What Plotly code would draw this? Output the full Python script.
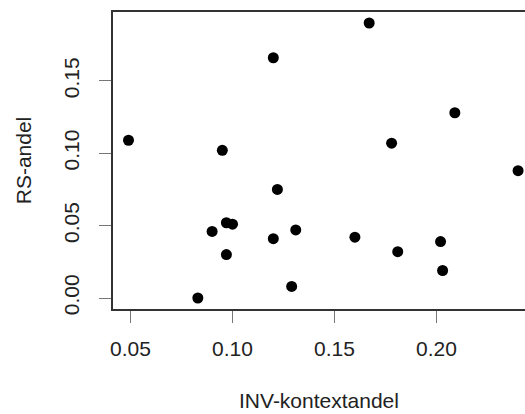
import plotly.graph_objects as go

inv_kontextandel = [0.049, 0.167, 0.120, 0.209, 0.178, 0.095, 0.240, 0.122, 0.097, 0.100,
                    0.090, 0.131, 0.120, 0.160, 0.202, 0.097, 0.181, 0.203, 0.129, 0.083]
rs_andel = [0.109, 0.190, 0.166, 0.128, 0.107, 0.102, 0.088, 0.075, 0.052, 0.051,
            0.046, 0.047, 0.041, 0.042, 0.039, 0.030, 0.032, 0.019, 0.008, 0.000]

x_ticks = [0.05, 0.10, 0.15, 0.20]
x_ticklabels = ["0.05", "0.10", "0.15", "0.20"]
y_ticks = [0.00, 0.05, 0.10, 0.15]
y_ticklabels = ["0.00", "0.05", "0.10", "0.15"]

FONT = "Liberation Sans, Arial, sans-serif"
TXT = "#222222"

fig = go.Figure(go.Scatter(
    x=inv_kontextandel, y=rs_andel, mode="markers",
    marker=dict(color="black", size=11, line=dict(width=0)),
    cliponaxis=False, showlegend=False,
))

fig.update_layout(
    width=525, height=414,
    margin=dict(l=113, r=0, t=12, b=105),
    paper_bgcolor="white", plot_bgcolor="white",
    font=dict(family=FONT, size=21, color=TXT),
)
fig.update_xaxes(
    range=[0.0414, 0.2434], tickvals=x_ticks, ticktext=x_ticklabels,
    showgrid=False, zeroline=False,
    showline=True, linecolor="#333333", linewidth=1.5, mirror=True,
    ticks="outside", ticklen=12, tickwidth=1, tickcolor="#777777",
    ticklabelstandoff=8,
    tickfont=dict(size=21, color=TXT),
    title=dict(text="INV-kontextandel", standoff=34, font=dict(size=21, color=TXT)),
)
fig.update_yaxes(
    range=[-0.0076, 0.1976], tickvals=y_ticks, ticktext=y_ticklabels,
    showgrid=False, zeroline=False,
    showline=True, linecolor="#333333", linewidth=1.5, mirror=False,
    ticks="outside", ticklen=12, tickwidth=1, tickcolor="#777777",
    ticklabelstandoff=12,
    tickangle=-90, tickfont=dict(size=21, color=TXT),
    title=dict(text="RS-andel", standoff=22, font=dict(size=21, color=TXT)),
)

fig.write_html("out.html")
